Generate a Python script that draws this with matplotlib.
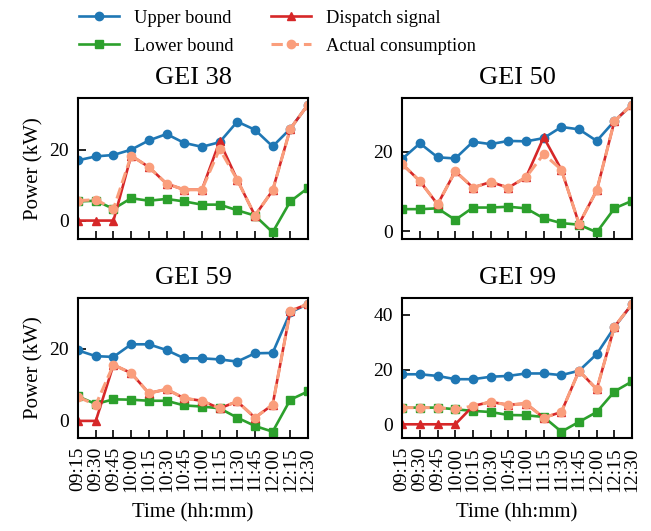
import matplotlib
matplotlib.use("Agg")
import matplotlib.pyplot as plt
from matplotlib.ticker import MultipleLocator

plt.rcParams['font.family'] = ['Liberation Serif', 'DejaVu Serif']

times = ['09:15', '09:30', '09:45', '10:00', '10:15', '10:30', '10:45',
         '11:00', '11:15', '11:30', '11:45', '12:00', '12:15', '12:30']

# GEI 38
upper_38 = [17.0, 18.1, 18.5, 20.0, 22.6, 24.4, 21.9, 20.8, 22.1, 27.9, 25.6, 20.9, 25.9, 32.7]
lower_38 = [5.4, 5.6, 3.3, 6.3, 5.6, 6.1, 5.4, 4.5, 4.5, 2.9, 1.4, -3.3, 5.4, 9.2]
dispatch_38 = [0.0, 0.0, 0.0, 18.3, 15.1, 10.4, 8.7, 8.7, 22.3, 11.5, 1.4, 8.5, 25.9, 32.7]
actual_38 = [5.6, 5.9, 3.3, 18.3, 15.1, 10.4, 8.7, 8.7, 20.2, 11.5, 1.4, 8.5, 25.9, 32.7]

# GEI 50
upper_50 = [18.2, 22.1, 18.6, 18.3, 22.5, 21.9, 22.7, 22.6, 23.4, 26.2, 25.6, 22.7, 27.7, 31.8]
lower_50 = [5.6, 5.6, 5.8, 2.9, 6.0, 6.0, 6.2, 5.8, 3.3, 2.1, 1.7, -0.2, 5.8, 7.7]
dispatch_50 = [16.9, 12.6, 6.8, 15.1, 11.0, 12.4, 11.0, 13.6, 23.6, 15.5, 1.9, 10.3, 27.7, 31.8]
actual_50 = [16.9, 12.6, 6.8, 15.1, 11.0, 12.4, 11.0, 13.6, 19.4, 15.5, 1.9, 10.3, 27.7, 31.8]

# GEI 59
upper_59 = [19.6, 18.0, 17.8, 21.3, 21.3, 19.7, 17.4, 17.4, 17.1, 16.5, 18.8, 18.9, 30.2, 32.5]
lower_59 = [6.8, 4.7, 6.0, 5.9, 5.6, 5.6, 4.3, 4.0, 3.5, 0.9, -1.4, -3.0, 5.9, 8.2]
dispatch_59 = [0.0, 0.0, 15.6, 13.3, 7.7, 8.8, 6.3, 5.6, 3.5, 5.4, 0.9, 4.5, 30.6, 32.5]
actual_59 = [6.6, 4.5, 15.6, 13.3, 7.7, 8.8, 6.3, 5.6, 3.5, 5.4, 0.9, 4.5, 30.6, 32.5]

# GEI 99
upper_99 = [18.3, 18.3, 17.7, 16.5, 16.5, 17.4, 17.7, 18.6, 18.6, 18.0, 19.6, 25.7, 35.5, 44.0]
lower_99 = [6.1, 6.1, 6.1, 5.5, 4.9, 4.5, 3.4, 3.3, 2.7, -2.7, 0.9, 4.5, 12.0, 15.7]
dispatch_99 = [0.0, 0.0, 0.0, 0.0, 6.7, 8.2, 7.1, 7.6, 2.4, 4.5, 19.6, 12.8, 35.7, 44.0]
actual_99 = [6.1, 6.1, 6.1, 5.5, 6.7, 8.2, 7.1, 7.6, 2.4, 4.5, 19.6, 12.8, 35.7, 44.0]

panels = [
    ('GEI 38', upper_38, lower_38, dispatch_38, actual_38),
    ('GEI 50', upper_50, lower_50, dispatch_50, actual_50),
    ('GEI 59', upper_59, lower_59, dispatch_59, actual_59),
    ('GEI 99', upper_99, lower_99, dispatch_99, actual_99),
]

fig, axes = plt.subplots(2, 2, figsize=(6.51, 5.31), dpi=100)
fig.subplots_adjust(left=0.12, right=0.971, top=0.815, bottom=0.175,
                    wspace=0.41, hspace=0.42)

x = list(range(len(times)))
for i, (ax, (name, up, lo, disp, act)) in enumerate(zip(axes.flat, panels)):
    ax.plot(x, up, color='#1f77b4', marker='o', ms=6, lw=1.9, label='Upper bound')
    ax.plot(x, lo, color='#2ca02c', marker='s', ms=6, lw=1.9, label='Lower bound')
    ax.plot(x, disp, color='#d62728', marker='^', ms=6, lw=1.9, label='Dispatch signal')
    ax.plot(x, act, color='#fa9e7c', marker='o', ms=6, lw=2.2, ls='--',
            label='Actual consumption')
    ax.set_title(name, fontsize=19, pad=10)
    ax.set_xlim(0, len(times) - 1)
    ax.yaxis.set_major_locator(MultipleLocator(20))
    ax.set_xticks(x)
    ax.tick_params(direction='in', length=6, width=1.2, labelsize=14,
                   top=False, right=False, pad=6.5)
    for s in ax.spines.values():
        s.set_linewidth(1.5)
    if i >= 2:
        ax.set_xticklabels(times, rotation=90)
        ax.set_xlabel('Time (hh:mm)', fontsize=15, labelpad=8)
    else:
        ax.set_xticklabels([])
    if i % 2 == 0:
        ax.set_ylabel('Power (kW)', fontsize=15)

handles, labels = axes[0, 0].get_legend_handles_labels()
fig.legend(handles, labels, loc='upper center', bbox_to_anchor=(0.426, 1.013),
           ncol=2, frameon=False, fontsize=13.3, columnspacing=2.05,
           handlelength=2.15, labelspacing=0.6)

fig.savefig('out.png', dpi=100)
